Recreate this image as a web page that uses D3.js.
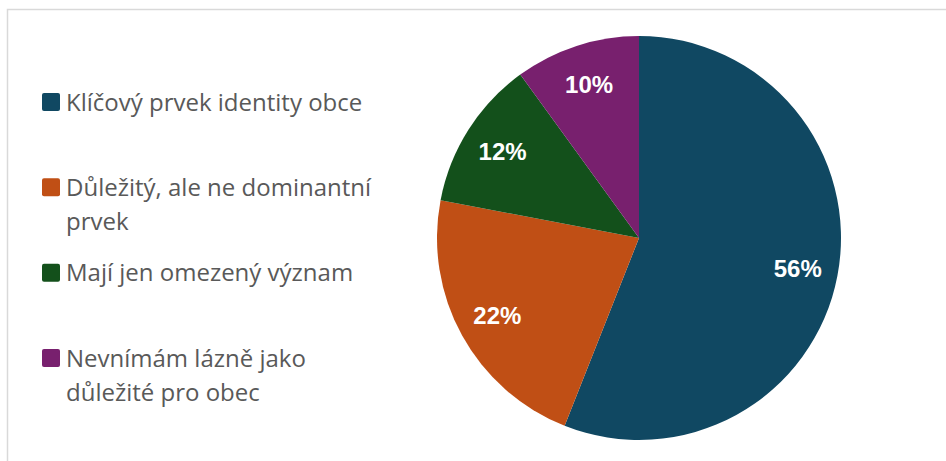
<!DOCTYPE html>
<html lang="cs">
<head>
    <meta charset="UTF-8">
    <title>Lázně a identita obce</title>
    <script src="https://d3js.org/d3.v7.min.js"></script>
    <style>
        body { margin: 0; background: #fff; }
        .legend text { font-family: "Open Sans", sans-serif; font-size: 24px; fill: #595959; }
        .label { font-family: "Liberation Sans", Arial, sans-serif; font-size: 24px; font-weight: bold; fill: #fff; }
    </style>
</head>
<body>
    <svg width="946" height="461"></svg>

    <script>
        const categories = [
            'Klíčový prvek identity obce',
            'Důležitý, ale ne dominantní prvek',
            'Mají jen omezený význam',
            'Nevnímám lázně jako důležité pro obec'
        ];
        const legendLines = [
            ['Klíčový prvek identity obce'],
            ['Důležitý, ale ne dominantní', 'prvek'],
            ['Mají jen omezený význam'],
            ['Nevnímám lázně jako', 'důležité pro obec']
        ];
        const values = [56, 22, 12, 10];
        const colors = ['#104862', '#C04F15', '#13501B', '#78206E'];

        const svg = d3.select('svg');
        const width = +svg.attr('width');
        const height = +svg.attr('height');

        // chart frame
        svg.append('rect')
            .attr('x', 7.5).attr('y', 9.5)
            .attr('width', width).attr('height', height)
            .attr('fill', 'none')
            .attr('stroke', '#d9d9d9')
            .attr('stroke-width', 1.5);

        const cx = 639, cy = 238, radius = 202;

        const pie = d3.pie().sort(null).value(d => d);
        const arc = d3.arc().innerRadius(0).outerRadius(radius);
        const labelArc = d3.arc().innerRadius(radius * 0.8).outerRadius(radius * 0.8);

        const g = svg.append('g').attr('transform', `translate(${cx},${cy})`);
        const arcs = pie(values);

        g.selectAll('path')
            .data(arcs)
            .enter().append('path')
            .attr('d', arc)
            .attr('fill', (d, i) => colors[i]);

        g.selectAll('.label')
            .data(arcs)
            .enter().append('text')
            .attr('class', 'label')
            .attr('transform', d => `translate(${labelArc.centroid(d)})`)
            .attr('text-anchor', 'middle')
            .attr('dy', '0.36em')
            .text(d => d.data + '%');

        // legend
        const legendY = d3.scalePoint()
            .domain(categories)
            .range([102, 358]);

        const legend = svg.append('g').attr('class', 'legend')
            .selectAll('g')
            .data(categories)
            .enter().append('g')
            .attr('transform', d => `translate(42,${legendY(d)})`);

        legend.append('rect')
            .attr('x', 0).attr('y', -9)
            .attr('width', 18).attr('height', 18)
            .attr('rx', 2)
            .attr('fill', (d, i) => colors[i]);

        legend.append('text')
            .selectAll('tspan')
            .data((d, i) => legendLines[i])
            .enter().append('tspan')
            .attr('x', 24)
            .attr('dy', (d, j) => j === 0 ? '0.36em' : 34)
            .text(d => d);
    </script>
</body>
</html>
